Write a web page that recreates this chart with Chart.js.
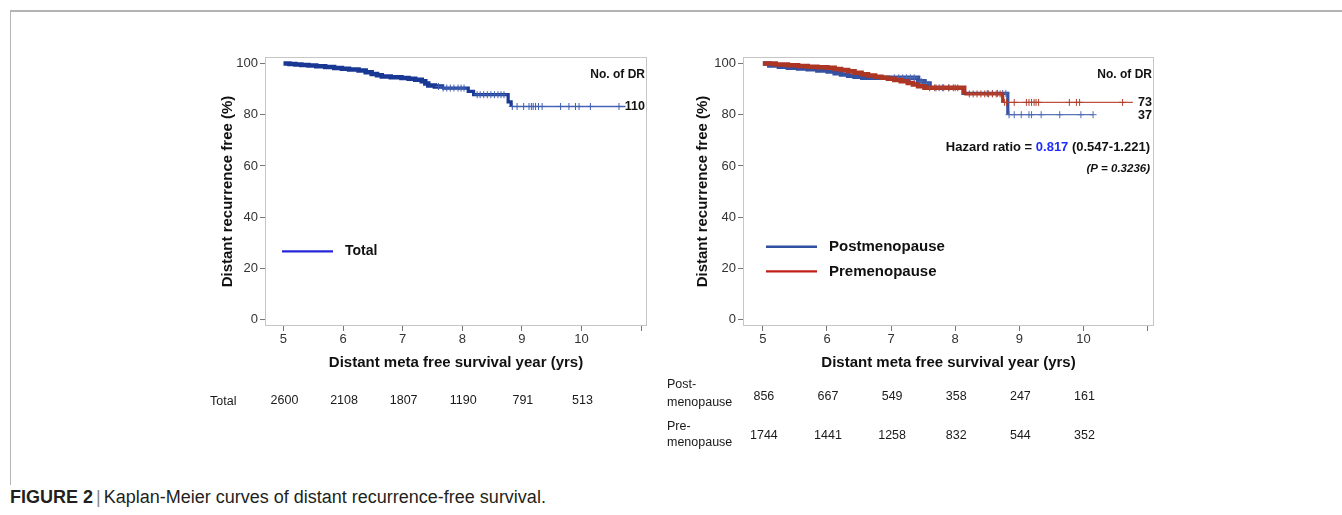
<!DOCTYPE html>
<html>
<head>
<meta charset="utf-8">
<title>Kaplan-Meier curves of distant recurrence-free survival</title>
<script src="https://cdn.jsdelivr.net/npm/chart.js@4.4.1/dist/chart.umd.min.js"></script>
<style>
    body { margin: 0; background: #fff; font-family: 'Liberation Sans', Arial, sans-serif; }
    .frame { position: absolute; left: 10px; top: 10px; right: 0; height: 473px;
             border-top: 2px solid #b4b4b4; border-left: 1px solid #b4b4b4; }
    #leftChart { position: absolute; left: 190px; top: 40px; }
    #rightChart { position: absolute; left: 655px; top: 40px; }
    .caption { position: absolute; left: 10px; top: 487px; font-size: 18px; line-height: 20px; color: #231f20; }
    .caption .sep { color: #888; margin: 0 3px; }
</style>
</head>
<body>
<div class="frame"></div>
<canvas id="leftChart" width="465" height="390"></canvas>
<canvas id="rightChart" width="510" height="420"></canvas>
<div class="caption"><b>FIGURE 2</b><span class="sep">|</span>Kaplan-Meier curves of distant recurrence-free survival.</div>

<script>
// Kaplan-Meier figure - total cohort (left) and by menopausal status (right)

const FONT = "'Liberation Sans', Arial, sans-serif";

// axes
const yearTicks = [5, 6, 7, 8, 9, 10, 11];
const survTicks = [0, 20, 40, 60, 80, 100];

// numbers at risk
const riskYears = [5, 6, 7, 8, 9, 10];
const totalAtRisk = [2600, 2108, 1807, 1190, 791, 513];
const postAtRisk = [856, 667, 549, 358, 247, 161];
const preAtRisk = [1744, 1441, 1258, 832, 544, 352];

// number of distant recurrences
const totalDR = 110;
const preDR = 73;
const postDR = 37;

// hazard ratio (pre vs post)
const hazardRatio = '0.817';
const hazardCI = ['0.547', '1.221'];
const hazardP = '0.3236';

// total curve (years, % free)
const totalTimes = [5.0, 5.1, 5.2, 5.3, 5.42, 5.55, 5.7, 5.85, 5.98, 6.1, 6.26, 6.38, 6.48, 6.57, 6.65, 6.8,
    6.98, 7.1, 7.21, 7.32, 7.38, 7.43, 7.54, 7.66, 8.1, 8.19, 8.77, 8.82, 10.74];
const totalSurv = [100, 99.8, 99.6, 99.4, 99.2, 98.9, 98.6, 98.2, 97.9, 97.6, 97.2, 96.6, 95.9, 95.4, 94.9, 94.6,
    94.3, 94.0, 93.6, 93.0, 92.2, 91.4, 91.0, 90.4, 89.1, 87.8, 85.0, 83.2, 83.2];
const totalCensor = [7.6, 7.68, 7.74, 7.8, 7.86, 7.93, 7.98, 8.03, 8.25, 8.3, 8.36, 8.42, 8.48, 8.54, 8.6, 8.65, 8.7,
    8.84, 8.92, 9.03, 9.12, 9.16, 9.19, 9.23, 9.28, 9.34, 9.65, 9.79, 9.9, 9.96, 10.15, 10.63];

// postmenopause curve
const postTimes = [5.0, 5.1, 5.25, 5.39, 5.55, 5.7, 5.85, 6.01, 6.12, 6.22, 6.33, 6.43, 6.55, 7.42, 7.52, 7.6,
    8.12, 8.82, 10.15];
const postSurv = [100, 99.2, 98.7, 98.3, 98.0, 97.7, 97.2, 96.8, 96.2, 95.7, 95.2, 94.8, 94.4, 93.0, 92.2, 90.5,
    88.3, 80.0, 80.0];
const postCensor = [7.05, 7.12, 7.18, 7.24, 7.3, 7.36, 7.47, 7.55, 7.7, 7.8, 7.9, 8.0, 8.5, 8.58, 8.66, 8.74, 8.79,
    8.84, 8.92, 9.03, 9.15, 9.19, 9.34, 9.63, 9.96, 10.15];

// premenopause curve
const preTimes = [5.0, 5.2, 5.39, 5.55, 5.7, 5.85, 6.01, 6.12, 6.22, 6.33, 6.43, 6.54, 6.64, 6.75, 6.85, 6.95,
    7.05, 7.15, 7.26, 7.34, 7.42, 7.52, 8.14, 8.74, 10.77];
const preSurv = [100, 99.6, 99.3, 99.0, 98.7, 98.5, 98.3, 97.8, 97.4, 96.9, 96.4, 95.8, 95.3, 94.8, 94.4, 94.0,
    93.5, 93.0, 92.4, 91.8, 91.1, 90.5, 88.1, 84.8, 84.8];
const preCensor = [7.6, 7.68, 7.75, 7.82, 7.9, 7.97, 8.04, 8.22, 8.28, 8.34, 8.4, 8.46, 8.52, 8.58, 8.64, 8.7,
    8.77, 8.8, 8.92, 9.11, 9.15, 9.19, 9.23, 9.26, 9.3, 9.78, 9.89, 9.94, 10.61];

Chart.defaults.font.family = FONT;
Chart.defaults.animation = false;

function curvePoints(times, surv) {
    return times.map((t, i) => ({ x: t, y: surv[i] }));
}

function survAt(times, surv, t) {
    let s = surv[0];
    times.forEach((tt, i) => { if (tt <= t) s = surv[i]; });
    return s;
}

// step curve: thick band where censoring is dense, thin line in the tail
function curveDataset(times, surv, thickUntil, thickColor, thinColor, order) {
    return {
        data: curvePoints(times, surv),
        stepped: 'before',
        pointRadius: 0,
        borderColor: thickColor,
        borderWidth: 4.5,
        order: order,
        segment: {
            borderWidth: c => c.p0.parsed.x < 7.55 ? 4.5 : (c.p0.parsed.x < thickUntil ? 3.2 : 1.3),
            borderColor: c => c.p0.parsed.x < thickUntil ? thickColor : thinColor
        }
    };
}

function censorDataset(times, surv, cens, color, order) {
    return {
        data: cens.map(t => ({ x: t, y: survAt(times, surv, t) })),
        showLine: false,
        pointStyle: 'cross',
        pointRadius: 3.5,
        pointBorderWidth: 1,
        pointBorderColor: color,
        order: order
    };
}

function buildScales(yWidth) {
    return {
        x: {
            type: 'linear', min: 4.69, max: 11.1,
            afterFit: s => { s.height = 46; },
            afterBuildTicks: s => { s.ticks = yearTicks.map(v => ({ value: v })); },
            grid: { drawOnChartArea: false, tickLength: 5, tickColor: '#777' },
            border: { display: false },
            ticks: {
                padding: 1, color: '#333', font: { size: 13 }, maxRotation: 0, autoSkip: false,
                callback: v => v <= 10 ? v : ''
            },
            title: {
                display: true, text: 'Distant meta free survival year (yrs)', color: '#111',
                font: { size: 15, weight: 'bold' }, padding: { top: 4, bottom: 0 }
            }
        },
        y: {
            type: 'linear', min: -2.4, max: 102.5,
            afterFit: s => { s.width = yWidth; },
            afterBuildTicks: s => { s.ticks = survTicks.map(v => ({ value: v })); },
            grid: { drawOnChartArea: false, tickLength: 5, tickColor: '#777' },
            border: { display: false },
            ticks: { padding: 2, color: '#333', font: { size: 13 } },
            title: {
                display: true, text: 'Distant recurrence free (%)', color: '#111',
                font: { size: 15, weight: 'bold' }, padding: { top: 4, bottom: 4 }
            }
        }
    };
}

// per-canvas extras: legend, DR counts, hazard ratio, at-risk table
const decor = {
    leftChart: {
        legend: [{ text: 'Total', color: '#2626d8', dy: 194.4 }],
        legendLine: [17, 68],
        legendTextX: 80,
        legendFont: 'bold 14px ' + FONT,
        endLabels: [{ text: totalDR, value: 83.2, shift: 0 }],
        hazard: false,
        riskLabelX: 20,
        riskRows: [{ label: ['Total'], labelY: [362], values: totalAtRisk, y: 361 }]
    },
    rightChart: {
        legend: [
            { text: 'Postmenopause', color: '#2f4fa0', dy: 189.7 },
            { text: 'Premenopause', color: '#bf1f15', dy: 214.4 }
        ],
        legendLine: [23, 74],
        legendTextX: 86,
        legendFont: 'bold 15px ' + FONT,
        endLabels: [{ text: preDR, value: 84.8, shift: 0 }, { text: postDR, value: 80, shift: 1 }],
        hazard: true,
        riskLabelX: 12,
        riskRows: [
            { label: ['Post-', 'menopause'], labelY: [345, 363], values: postAtRisk, y: 357 },
            { label: ['Pre-', 'menopause'], labelY: [387, 403], values: preAtRisk, y: 396 }
        ]
    }
};

const kmDecor = {
    id: 'kmDecor',
    beforeDatasetsDraw(chart) {
        const { ctx, chartArea: a } = chart;
        ctx.save();
        ctx.strokeStyle = '#c6c6c6';
        ctx.lineWidth = 1;
        ctx.strokeRect(a.left + 0.5, a.top + 0.5, a.width - 1, a.height - 1);
        ctx.restore();
    },
    afterDraw(chart) {
        const o = decor[chart.canvas.id];
        const { ctx, chartArea: a, scales: { x, y } } = chart;
        ctx.save();
        ctx.textBaseline = 'middle';

        // legend
        o.legend.forEach(item => {
            const ly = a.top + item.dy;
            ctx.strokeStyle = item.color;
            ctx.lineWidth = 2.4;
            ctx.beginPath();
            ctx.moveTo(a.left + o.legendLine[0], ly);
            ctx.lineTo(a.left + o.legendLine[1], ly);
            ctx.stroke();
            ctx.fillStyle = '#111';
            ctx.font = o.legendFont;
            ctx.textAlign = 'left';
            ctx.fillText(item.text, a.left + o.legendTextX, ly);
        });

        // No. of DR header and counts at curve ends
        ctx.fillStyle = '#111';
        ctx.font = 'bold 12px ' + FONT;
        ctx.textAlign = 'right';
        ctx.fillText('No. of DR', a.right - 2, a.top + 18);
        ctx.font = 'bold 12.5px ' + FONT;
        o.endLabels.forEach(l => {
            ctx.fillText(String(l.text), a.right - 2, y.getPixelForValue(l.value) + l.shift);
        });

        // hazard ratio
        if (o.hazard) {
            const parts = [
                ['Hazard ratio = ', '#111'],
                [hazardRatio, '#1f2bff'],
                [' (' + hazardCI[0] + '-' + hazardCI[1] + ')', '#111']
            ];
            ctx.font = 'bold 13px ' + FONT;
            const total = parts.reduce((w, p) => w + ctx.measureText(p[0]).width, 0);
            let hx = a.right - 4 - total;
            ctx.textAlign = 'left';
            parts.forEach(p => {
                ctx.fillStyle = p[1];
                ctx.fillText(p[0], hx, a.top + 90.5);
                hx += ctx.measureText(p[0]).width;
            });
            ctx.fillStyle = '#111';
            ctx.font = 'italic bold 11.5px ' + FONT;
            ctx.textAlign = 'right';
            ctx.fillText('(P = ' + hazardP + ')', a.right - 4, a.top + 112);
        }

        // numbers at risk
        ctx.font = '12.5px ' + FONT;
        ctx.fillStyle = '#1a1a1a';
        o.riskRows.forEach(row => {
            ctx.textAlign = 'left';
            row.label.forEach((line, i) => ctx.fillText(line, o.riskLabelX, row.labelY[i]));
            ctx.textAlign = 'center';
            row.values.forEach((v, i) => ctx.fillText(String(v), x.getPixelForValue(riskYears[i]) + 1, row.y));
        });
        ctx.restore();
    }
};

new Chart(document.getElementById('leftChart'), {
    type: 'line',
    data: {
        datasets: [
            censorDataset(totalTimes, totalSurv, totalCensor, '#3f5fb2', 0),
            curveDataset(totalTimes, totalSurv, 8.82, '#183894', '#4766b8', 1)
        ]
    },
    options: {
        responsive: false,
        devicePixelRatio: 1,
        layout: { padding: { left: 25, top: 17, right: 8, bottom: 58 } },
        scales: buildScales(50),
        plugins: { legend: { display: false }, tooltip: { enabled: false } }
    },
    plugins: [kmDecor]
});

new Chart(document.getElementById('rightChart'), {
    type: 'line',
    data: {
        datasets: [
            censorDataset(preTimes, preSurv, preCensor, '#b0402f', 0),
            curveDataset(preTimes, preSurv, 8.74, '#ad3524', '#c0503f', 1),
            censorDataset(postTimes, postSurv, postCensor, '#4f6bb4', 2),
            curveDataset(postTimes, postSurv, 8.82, '#3551a2', '#5a74b8', 3)
        ]
    },
    options: {
        responsive: false,
        devicePixelRatio: 1,
        layout: { padding: { left: 35, top: 17, right: 11, bottom: 88 } },
        scales: buildScales(53),
        plugins: { legend: { display: false }, tooltip: { enabled: false } }
    },
    plugins: [kmDecor]
});
</script>
</body>
</html>
